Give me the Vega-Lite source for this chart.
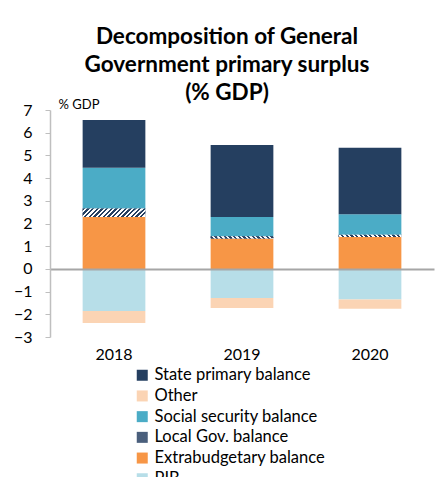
{
  "$schema": "https://vega.github.io/schema/vega-lite/v6.json",
  "autosize": "none",
  "width": 384,
  "height": 227,
  "padding": {"left": 50, "top": 110, "right": 6, "bottom": 140},
  "background": "white",
  "config": {"font": "Lato", "view": {"stroke": null}, "axisY": {"labelOverlap": false, "labelBound": false}},
  "title": {
    "text": ["Decomposition of General", "Government primary surplus", "(% GDP)"],
    "fontSize": 22.5,
    "fontWeight": "bold",
    "font": "Lato",
    "color": "#000000",
    "lineHeight": 28,
    "anchor": "middle",
    "frame": "group",
    "dx": -15,
    "offset": -6
  },
  "data": {
    "values": [
      {"year": "2018", "component": "Extrabudgetary balance", "order": 1, "value": 2.29},
      {"year": "2018", "component": "Local Gov. balance", "order": 2, "value": 0.37},
      {"year": "2018", "component": "Social security balance", "order": 3, "value": 1.80},
      {"year": "2018", "component": "State primary balance", "order": 4, "value": 2.10},
      {"year": "2018", "component": "PIB", "order": 5, "value": -1.85},
      {"year": "2018", "component": "Other", "order": 6, "value": -0.53},
      {"year": "2019", "component": "Extrabudgetary balance", "order": 1, "value": 1.34},
      {"year": "2019", "component": "Local Gov. balance", "order": 2, "value": 0.10},
      {"year": "2019", "component": "Social security balance", "order": 3, "value": 0.85},
      {"year": "2019", "component": "State primary balance", "order": 4, "value": 3.17},
      {"year": "2019", "component": "PIB", "order": 5, "value": -1.28},
      {"year": "2019", "component": "Other", "order": 6, "value": -0.44},
      {"year": "2020", "component": "Extrabudgetary balance", "order": 1, "value": 1.40},
      {"year": "2020", "component": "Local Gov. balance", "order": 2, "value": 0.10},
      {"year": "2020", "component": "Social security balance", "order": 3, "value": 0.91},
      {"year": "2020", "component": "State primary balance", "order": 4, "value": 2.93},
      {"year": "2020", "component": "PIB", "order": 5, "value": -1.35},
      {"year": "2020", "component": "Other", "order": 6, "value": -0.41}
    ]
  },
  "transform": [
    {"stack": "value", "groupby": ["year"], "sort": [{"field": "order", "order": "ascending"}], "as": ["v0", "v1"]}
  ],
  "encoding": {
    "x": {
      "field": "year",
      "type": "nominal",
      "scale": {"paddingInner": 0.51, "paddingOuter": 0.255},
      "axis": {
        "title": null,
        "labelAngle": 0,
        "domain": false,
        "ticks": false,
        "labelPadding": 9,
        "labelFontSize": 16,
        "labelColor": "#000000",
        "labelFont": "Lato"
      }
    },
    "y": {
      "field": "v0",
      "type": "quantitative",
      "scale": {"domain": [-3, 7], "nice": false},
      "axis": {
        "values": [-3, -2, -1, 0, 1, 2, 3, 4, 5, 6, 7],
        "labelOverlap": false,
        "grid": true,
        "gridColor": {"condition": {"test": "datum.value === 0", "value": "#A6A6A6"}, "value": "transparent"},
        "gridWidth": 2,
        "zindex": 1,
        "title": "% GDP",
        "titleAngle": 0,
        "titleAlign": "left",
        "titleBaseline": "middle",
        "titleX": 8,
        "titleY": -6,
        "titleFontSize": 13,
        "titleFontWeight": "normal",
        "titleColor": "#000000",
        "titleFont": "Lato",
        "labelFontSize": 16,
        "labelColor": "#000000",
        "labelFont": "Lato",
        "labelPadding": 13,
        "tickSize": 5,
        "tickColor": "#BFBFBF",
        "domainColor": "#BFBFBF",
        "domainWidth": 1.5
      }
    },
    "y2": {"field": "v1"}
  },
  "layer": [
    {
      "mark": {"type": "bar"},
      "encoding": {
        "color": {
          "field": "component",
          "type": "nominal",
          "scale": {
            "domain": ["State primary balance", "Other", "Social security balance", "Local Gov. balance", "Extrabudgetary balance", "PIB"],
            "range": ["#253F60", "#FBD4B4", "#4BACC6", "#4A5F7C", "#F79646", "#B7DEE8"]
          },
          "legend": {
            "title": null,
            "orient": "none",
            "legendX": 84,
            "legendY": 257,
            "direction": "vertical",
            "padding": 0,
            "symbolType": "square",
            "symbolSize": 121,
            "symbolStrokeWidth": 0,
            "labelFontSize": 16.5,
            "labelFont": "Lato",
            "labelColor": "#000000",
            "labelOffset": 4,
            "rowPadding": 3.7,
            "labelLimit": 300
          }
        }
      }
    },
    {
      "transform": [
        {"filter": "datum.component === 'Local Gov. balance'"}
      ],
      "mark": {
        "type": "bar",
        "color": {
          "gradient": "linear",
          "x1": 0, "y1": 0, "x2": 1.1, "y2": 0.15,
          "stops": [
            {"offset": 0.0, "color": "#253F60"}, {"offset": 0.033, "color": "#253F60"}, {"offset": 0.034, "color": "#FFFFFF"}, {"offset": 0.066, "color": "#FFFFFF"},
            {"offset": 0.067, "color": "#253F60"}, {"offset": 0.1, "color": "#253F60"}, {"offset": 0.101, "color": "#FFFFFF"}, {"offset": 0.133, "color": "#FFFFFF"},
            {"offset": 0.134, "color": "#253F60"}, {"offset": 0.166, "color": "#253F60"}, {"offset": 0.167, "color": "#FFFFFF"}, {"offset": 0.2, "color": "#FFFFFF"},
            {"offset": 0.201, "color": "#253F60"}, {"offset": 0.233, "color": "#253F60"}, {"offset": 0.234, "color": "#FFFFFF"}, {"offset": 0.266, "color": "#FFFFFF"},
            {"offset": 0.267, "color": "#253F60"}, {"offset": 0.3, "color": "#253F60"}, {"offset": 0.301, "color": "#FFFFFF"}, {"offset": 0.333, "color": "#FFFFFF"},
            {"offset": 0.334, "color": "#253F60"}, {"offset": 0.366, "color": "#253F60"}, {"offset": 0.367, "color": "#FFFFFF"}, {"offset": 0.4, "color": "#FFFFFF"},
            {"offset": 0.401, "color": "#253F60"}, {"offset": 0.433, "color": "#253F60"}, {"offset": 0.434, "color": "#FFFFFF"}, {"offset": 0.466, "color": "#FFFFFF"},
            {"offset": 0.467, "color": "#253F60"}, {"offset": 0.5, "color": "#253F60"}, {"offset": 0.501, "color": "#FFFFFF"}, {"offset": 0.533, "color": "#FFFFFF"},
            {"offset": 0.534, "color": "#253F60"}, {"offset": 0.566, "color": "#253F60"}, {"offset": 0.567, "color": "#FFFFFF"}, {"offset": 0.6, "color": "#FFFFFF"},
            {"offset": 0.601, "color": "#253F60"}, {"offset": 0.633, "color": "#253F60"}, {"offset": 0.634, "color": "#FFFFFF"}, {"offset": 0.666, "color": "#FFFFFF"},
            {"offset": 0.667, "color": "#253F60"}, {"offset": 0.7, "color": "#253F60"}, {"offset": 0.701, "color": "#FFFFFF"}, {"offset": 0.733, "color": "#FFFFFF"},
            {"offset": 0.734, "color": "#253F60"}, {"offset": 0.766, "color": "#253F60"}, {"offset": 0.767, "color": "#FFFFFF"}, {"offset": 0.8, "color": "#FFFFFF"},
            {"offset": 0.801, "color": "#253F60"}, {"offset": 0.833, "color": "#253F60"}, {"offset": 0.834, "color": "#FFFFFF"}, {"offset": 0.866, "color": "#FFFFFF"},
            {"offset": 0.867, "color": "#253F60"}, {"offset": 0.9, "color": "#253F60"}, {"offset": 0.901, "color": "#FFFFFF"}, {"offset": 0.933, "color": "#FFFFFF"},
            {"offset": 0.934, "color": "#253F60"}, {"offset": 0.966, "color": "#253F60"}, {"offset": 0.967, "color": "#FFFFFF"}, {"offset": 1.0, "color": "#FFFFFF"}
          ]
        }
      }
    }
  ]
}
